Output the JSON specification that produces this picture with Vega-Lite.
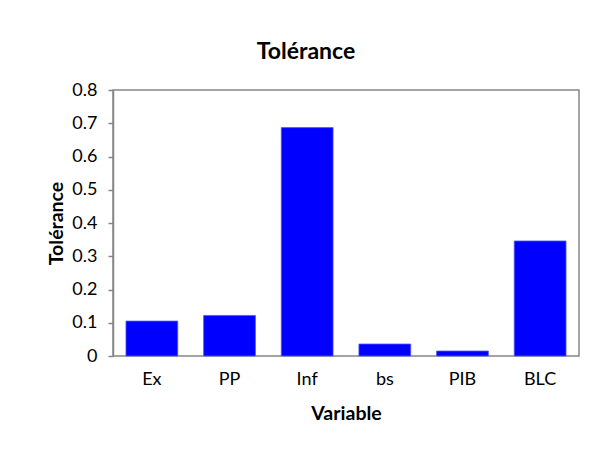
{
  "$schema": "https://vega.github.io/schema/vega-lite/v6.json",
  "width": 466,
  "height": 266,
  "autosize": {"type": "none"},
  "padding": {"left": 113, "top": 90, "right": 24, "bottom": 97},
  "background": "white",
  "title": {
    "text": "Tolérance",
    "font": "Lato",
    "fontSize": 23,
    "fontWeight": "bold",
    "color": "#000000",
    "anchor": "middle",
    "frame": "group",
    "dx": -40,
    "dy": 33,
    "baseline": "alphabetic",
    "offset": 32
  },
  "data": {
    "values": [
      {"Variable": "Ex", "Tolerance": 0.105},
      {"Variable": "PP", "Tolerance": 0.122},
      {"Variable": "Inf", "Tolerance": 0.687},
      {"Variable": "bs", "Tolerance": 0.036},
      {"Variable": "PIB", "Tolerance": 0.015},
      {"Variable": "BLC", "Tolerance": 0.346}
    ]
  },
  "mark": {"type": "bar", "color": "#0000ff", "stroke": "#5555ff", "strokeWidth": 0.8},
  "encoding": {
    "x": {
      "field": "Variable",
      "type": "nominal",
      "sort": null,
      "scale": {"paddingInner": 0.333, "paddingOuter": 0.167},
      "axis": {
        "title": "Variable",
        "labelAngle": 0,
        "ticks": false,
        "tickSize": 0,
        "labelPadding": 28.5,
        "labelBaseline": "alphabetic",
        "titleBaseline": "alphabetic",
        "titleY": 63,
        "domain": false
      }
    },
    "y": {
      "field": "Tolerance",
      "type": "quantitative",
      "scale": {"domain": [0, 0.8], "nice": false},
      "axis": {
        "title": "Tolérance",
        "values": [0, 0.1, 0.2, 0.3, 0.4, 0.5, 0.6, 0.7, 0.8],
        "format": ".1~f",
        "grid": false,
        "tickSize": 5,
        "labelPadding": 11,
        "titleX": -51,
        "titleY": 133,
        "titleAlign": "center",
        "titleBaseline": "alphabetic",
        "titleAngle": -90
      }
    }
  },
  "config": {
    "view": {"stroke": "#868686", "strokeWidth": 1.5},
    "axis": {
      "labelFont": "Lato",
      "labelFontSize": 18,
      "labelColor": "#000000",
      "titleFont": "Lato",
      "titleFontSize": 19.5,
      "titleFontWeight": "bold",
      "titleColor": "#000000",
      "domainColor": "#868686",
      "domainWidth": 1.5,
      "tickColor": "#868686",
      "tickWidth": 1.5
    }
  }
}
